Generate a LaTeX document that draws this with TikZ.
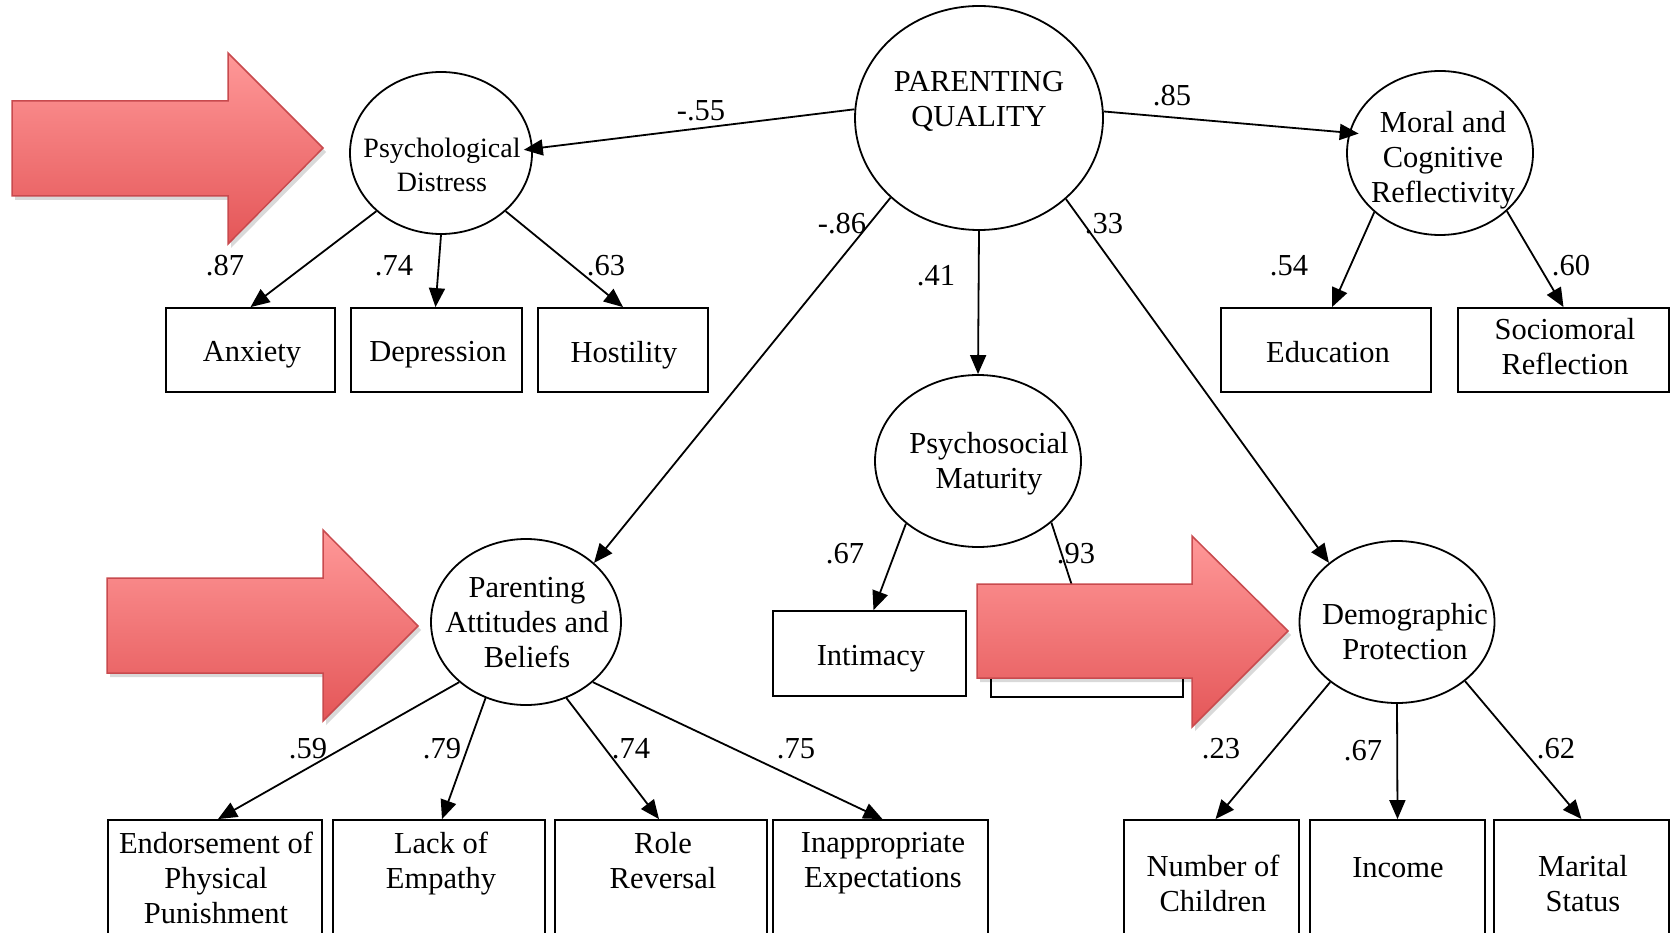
\documentclass[tikz,border=0pt]{standalone}
\usepackage{fontspec}
\setmainfont{Liberation Serif}
\usetikzlibrary{arrows.meta,calc,shapes.geometric}
\definecolor{arrtop}{RGB}{255,152,152}
\definecolor{arrbot}{RGB}{228,86,88}
\definecolor{arrdraw}{RGB}{200,74,78}
\begin{document}
\begin{tikzpicture}[x=1pt,y=-1pt,
  every node/.style={font=\fontsize{30.5}{35}\selectfont},
  lat/.style={draw, ellipse, line width=1.8pt, inner sep=0pt},
  obs/.style={draw, rectangle, line width=1.8pt, inner sep=0pt},
  lbl/.style={align=center, inner sep=0pt},
  num/.style={inner sep=0pt},
  conn/.style={line width=1.8pt, -{Triangle[length=19pt,width=16pt]}},
  bigarrow/.style={draw=arrdraw, line width=1.5pt, top color=arrtop, bottom color=arrbot, line join=miter},
  arrshadow/.style={fill=black, opacity=0.15, draw=none}
]
\useasboundingbox (0,0) rectangle (1675,933);
\clip (0,0) rectangle (1675,933);
\fill[white] (0,0) rectangle (1675,933);

% latent variables
\node[lat, minimum width=248pt, minimum height=224pt] (PQ) at (979,118) {};
\node[lbl] (PQt) at (979,101) {PARENTING\\QUALITY};
\node[lat, minimum width=182pt, minimum height=162pt] (PD) at (441,153) {};
\node[lbl, font=\fontsize{28}{34}\selectfont] (PDt) at (442,165) {Psychological\\Distress};
\node[lat, minimum width=186pt, minimum height=164pt] (MC) at (1440,153) {};
\node[lbl] (MCt) at (1443,160) {Moral and\\Cognitive\\Reflectivity};
\node[lat, minimum width=206pt, minimum height=172pt] (PM) at (978,461) {};
\node[lbl] (PMt) at (989,464) {Psychosocial\\Maturity};
\node[lat, minimum width=190pt, minimum height=166pt] (PAB) at (526,622) {};
\node[lbl] (PABt) at (527,623) {Parenting\\Attitudes and\\Beliefs};
\node[lat, minimum width=195pt, minimum height=162pt] (DP) at (1397,622) {};
\node[lbl] (DPt) at (1405,632) {Demographic\\Protection};

% observed variables
\node[obs, minimum width=169pt, minimum height=84pt] (Anx) at (250.5,350) {};
\node[lbl] (Anxt) at (252,355) {Anxiety};
\node[obs, minimum width=171pt, minimum height=84pt] (Dep) at (436.5,350) {};
\node[lbl] (Dept) at (438,355) {Depression};
\node[obs, minimum width=170pt, minimum height=84pt] (Hos) at (623,350) {};
\node[lbl] (Host) at (624,355) {Hostility};
\node[obs, minimum width=210pt, minimum height=84pt] (Edu) at (1326,350) {};
\node[lbl] (Edut) at (1328,352) {Education};
\node[obs, minimum width=211pt, minimum height=84pt] (Soc) at (1563.5,350) {};
\node[lbl] (Soct) at (1565,347) {Sociomoral\\Reflection};
\node[obs, minimum width=193pt, minimum height=85pt] (Int) at (869.5,653.5) {};
\node[lbl] (Intt) at (871,659) {Intimacy};
\node[obs, minimum width=192pt, minimum height=86pt] (Hid) at (1087,654) {};

\node[obs, minimum width=214pt, minimum height=160pt] (End) at (215,900) {};
\node[lbl] (Endt) at (216,878) {Endorsement of\\Physical\\Punishment};
\node[obs, minimum width=212pt, minimum height=160pt] (Lac) at (439,900) {};
\node[lbl] (Lact) at (441,864) {Lack of\\Empathy};
\node[obs, minimum width=212pt, minimum height=160pt] (Rol) at (661,900) {};
\node[lbl] (Rolt) at (663,861) {Role\\Reversal};
\node[obs, minimum width=215pt, minimum height=160pt] (Ina) at (880.5,900) {};
\node[lbl] (Inat) at (883,863) {Inappropriate\\Expectations};
\node[obs, minimum width=175pt, minimum height=160pt] (Num) at (1211.5,900) {};
\node[lbl] (Numt) at (1213,883) {Number of\\Children};
\node[obs, minimum width=175pt, minimum height=160pt] (Inc) at (1397.5,900) {};
\node[lbl] (Inct) at (1398,868) {Income};
\node[obs, minimum width=175pt, minimum height=160pt] (Mar) at (1581.5,900) {};
\node[lbl] (Mart) at (1583,884) {Marital\\Status};

% connectors
\draw[conn] (PQ.176) -- ([xshift=-9pt]PD.2);
\draw[conn] (PQ.3) -- ([xshift=10pt]MC.168);
\draw[conn] (PQ.222) -- (PAB.41);
\draw[conn] (PQ.south) -- (PM.north);
\draw[conn] (PQ.-43) -- (DP.139);
\draw[conn] (PD.222) -- (Anx.north);
\draw[conn] (PD.south) -- ([xshift=-1pt]Dep.north);
\draw[conn] (PD.-42) -- (Hos.north);
\draw[conn] (MC.222) -- ([xshift=6pt]Edu.north);
\draw[conn] (MC.-41) -- (Soc.north);
\draw[conn] (PM.221) -- ([xshift=4pt]Int.north);
\draw[conn] (PM.-40) -- ([xshift=-7pt]Hid.north);
\draw[conn] (PAB.222) -- ([xshift=3pt]End.north);
\draw[conn] (PAB.242) -- ([xshift=3pt]Lac.north);
\draw[conn] (PAB.298) -- ([xshift=-2pt]Rol.north);
\draw[conn] (PAB.-42) -- ([xshift=2pt]Ina.north);
\draw[conn] (DP.222) -- ([xshift=4pt]Num.north);
\draw[conn] (DP.south) -- (Inc.north);
\draw[conn] (DP.-41) -- (Mar.north);

% coefficients
\node[num] (c1) at (701,111) {-.55};
\node[num] (c2) at (1172,96) {.85};
\node[num] (c3) at (842,224) {-.86};
\node[num] (c4) at (936,276) {.41};
\node[num] (c5) at (1104,224) {.33};
\node[num] (c6) at (225,266) {.87};
\node[num] (c7) at (394,266) {.74};
\node[num] (c8) at (606,266) {.63};
\node[num] (c9) at (1289,266) {.54};
\node[num] (c10) at (1571,266) {.60};
\node[num] (c11) at (845,554) {.67};
\node[num] (c12) at (1076,554) {.93};
\node[num] (c13) at (308,749) {.59};
\node[num] (c14) at (442,749) {.79};
\node[num] (c15) at (631,749) {.74};
\node[num] (c16) at (796,749) {.75};
\node[num] (c17) at (1221,749) {.23};
\node[num] (c18) at (1363,751) {.67};
\node[num] (c19) at (1556,749) {.62};

% red block arrows
\fill[arrshadow] (15,105) -- (231,105) -- (231,57) -- (326,152) -- (231,248) -- (231,200) -- (15,200) -- cycle;
\path[bigarrow] (12,101) -- (228,101) -- (228,53) -- (323,148) -- (228,244) -- (228,196) -- (12,196) -- cycle;
\fill[arrshadow] (110,582) -- (326,582) -- (326,534) -- (421,630) -- (326,725) -- (326,677) -- (110,677) -- cycle;
\path[bigarrow] (107,578) -- (323,578) -- (323,530) -- (418,626) -- (323,721) -- (323,673) -- (107,673) -- cycle;
\fill[arrshadow] (980,588) -- (1195,588) -- (1195,540) -- (1291,635) -- (1195,731) -- (1195,682) -- (980,682) -- cycle;
\path[bigarrow] (977,584) -- (1192,584) -- (1192,536) -- (1288,631) -- (1192,727) -- (1192,678) -- (977,678) -- cycle;
\end{tikzpicture}
\end{document}
